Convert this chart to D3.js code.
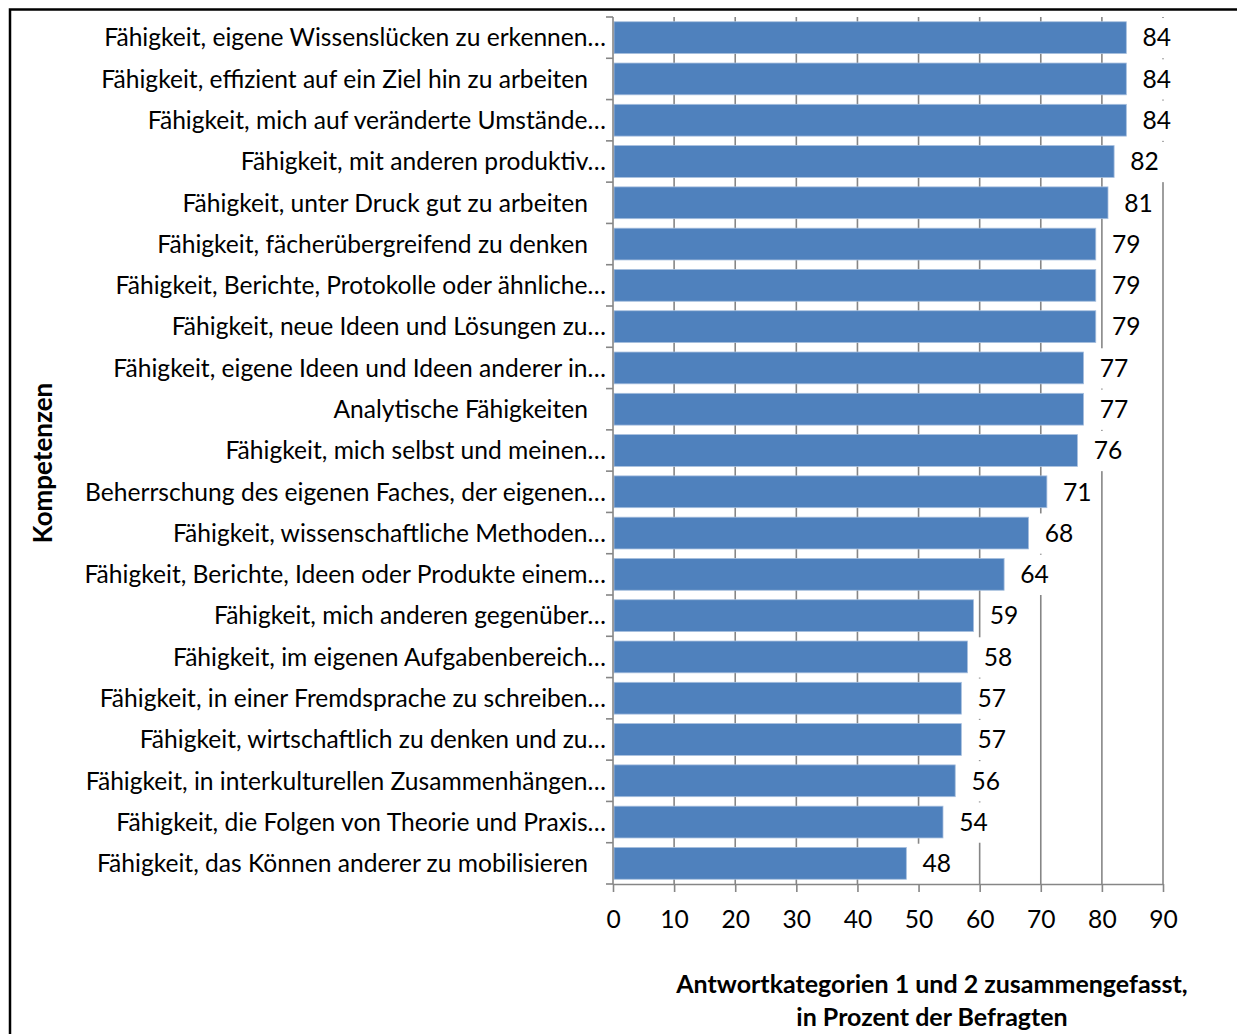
<!DOCTYPE html>
<html>
<head>
<meta charset="utf-8">
<script src="https://cdn.jsdelivr.net/npm/d3@7"></script>
<style>
  html, body { margin: 0; padding: 0; background: #fff; }
  svg { display: block; }
  text { font-family: Lato, "Open Sans", sans-serif; fill: #000; }
</style>
</head>
<body>
<div id="chart"></div>
<script>
const categories = [
  "Fähigkeit, eigene Wissenslücken zu erkennen…",
  "Fähigkeit, effizient auf ein Ziel hin zu arbeiten",
  "Fähigkeit, mich auf veränderte Umstände…",
  "Fähigkeit, mit anderen produktiv…",
  "Fähigkeit, unter Druck gut zu arbeiten",
  "Fähigkeit, fächerübergreifend zu denken",
  "Fähigkeit, Berichte, Protokolle oder ähnliche…",
  "Fähigkeit, neue Ideen und Lösungen zu…",
  "Fähigkeit, eigene Ideen und Ideen anderer in…",
  "Analytische Fähigkeiten",
  "Fähigkeit, mich selbst und meinen…",
  "Beherrschung des eigenen Faches, der eigenen…",
  "Fähigkeit, wissenschaftliche Methoden…",
  "Fähigkeit, Berichte, Ideen oder Produkte einem…",
  "Fähigkeit, mich anderen gegenüber…",
  "Fähigkeit, im eigenen Aufgabenbereich…",
  "Fähigkeit, in einer Fremdsprache zu schreiben…",
  "Fähigkeit, wirtschaftlich zu denken und zu…",
  "Fähigkeit, in interkulturellen Zusammenhängen…",
  "Fähigkeit, die Folgen von Theorie und Praxis…",
  "Fähigkeit, das Können anderer zu mobilisieren"
];
const values = [84, 84, 84, 82, 81, 79, 79, 79, 77, 77, 76, 71, 68, 64, 59, 58, 57, 57, 56, 54, 48];
const xTicks = [0, 10, 20, 30, 40, 50, 60, 70, 80, 90];
const yTitle = "Kompetenzen";
const xTitleLines = ["Antwortkategorien 1 und 2 zusammengefasst,", "in Prozent der Befragten"];

const W = 1237, H = 1034;
const plot = { left: 613, right: 1163, top: 17, bottom: 884 };
const gridColor = "#868686";
const barColor = "#4F81BD";
const fontSize = 24.6;
const font = "Lato, 'Open Sans', sans-serif";

const svg = d3.select("#chart").append("svg")
  .attr("width", W).attr("height", H);

// outer frame
svg.append("rect")
  .attr("x", 10).attr("y", 9.5)
  .attr("width", 1400).attr("height", 1200)
  .attr("fill", "none").attr("stroke", "#000").attr("stroke-width", 2.5);

const x = d3.scaleLinear().domain([0, 90]).range([plot.left, plot.right]);
const y = d3.scaleBand().domain(categories).range([plot.top, plot.bottom])
  .paddingInner(0.23).paddingOuter(0.115);
const step = y.step();
const cellTop = c => y(c) - step * y.paddingInner() / 2;

// gridlines
svg.append("g").selectAll("line").data(xTicks.filter(t => t > 0)).join("line")
  .attr("x1", d => x(d)).attr("x2", d => x(d))
  .attr("y1", plot.top).attr("y2", plot.bottom)
  .attr("stroke", gridColor).attr("stroke-width", 1.6);

// bars
svg.append("g").selectAll("rect").data(values).join("rect")
  .attr("x", x(0) + 1)
  .attr("y", (d, i) => y(categories[i]))
  .attr("width", d => x(d) - x(0) - 1)
  .attr("height", y.bandwidth())
  .attr("fill", barColor)
  .attr("stroke", "#A7BFDE").attr("stroke-width", 0.8);

// label backgrounds
svg.append("g").selectAll("rect").data(values).join("rect")
  .attr("x", d => x(d) + 9)
  .attr("y", (d, i) => cellTop(categories[i]) + 1)
  .attr("width", 43)
  .attr("height", step - 1)
  .attr("fill", "#fff");

// data labels
svg.append("g").selectAll("text").data(values).join("text")
  .attr("x", d => x(d) + 30.5)
  .attr("y", (d, i) => y(categories[i]) + y.bandwidth() / 2)
  .attr("dy", "0.36em")
  .attr("text-anchor", "middle")
  .style("font-size", fontSize + "px")
  .text(d => d);

// y axis line + ticks at band boundaries
const yAxis = svg.append("g");
yAxis.append("line")
  .attr("x1", plot.left).attr("x2", plot.left)
  .attr("y1", plot.top).attr("y2", plot.bottom)
  .attr("stroke", gridColor).attr("stroke-width", 1.6);
const bounds = categories.map(c => cellTop(c)).concat([plot.bottom]);
yAxis.selectAll("line.tick").data(bounds).join("line").attr("class", "tick")
  .attr("x1", plot.left - 7).attr("x2", plot.left)
  .attr("y1", d => d).attr("y2", d => d)
  .attr("stroke", gridColor).attr("stroke-width", 1.6);

// category labels
svg.append("g").selectAll("text").data(categories).join("text")
  .attr("x", d => d.endsWith("…") ? 606 : 588)
  .attr("y", d => y(d) + y.bandwidth() / 2)
  .attr("dy", "0.36em")
  .attr("text-anchor", "end")
  .style("font-size", fontSize + "px")
  .text(d => d);

// x axis
const xAxis = svg.append("g").attr("transform", `translate(0,${plot.bottom})`)
  .call(d3.axisBottom(x).tickValues(xTicks).tickSize(8).tickPadding(19).tickSizeOuter(0));
xAxis.select(".domain").attr("stroke", gridColor).attr("stroke-width", 1.6);
xAxis.selectAll(".tick line").attr("stroke", gridColor).attr("stroke-width", 1.6);
xAxis.selectAll(".tick text")
  .style("font-family", font)
  .style("font-size", fontSize + "px").attr("fill", "#000");

// axis titles
svg.append("text")
  .attr("transform", "translate(43,463) rotate(-90)")
  .attr("text-anchor", "middle").attr("dy", "0.36em")
  .style("font-size", "26px").style("font-weight", "bold")
  .text(yTitle);

svg.append("g").selectAll("text").data(xTitleLines).join("text")
  .attr("x", 932)
  .attr("y", (d, i) => 984 + i * 33)
  .attr("dy", "0.36em")
  .attr("text-anchor", "middle")
  .style("font-size", "25px").style("font-weight", "bold")
  .text(d => d);
</script>
</body>
</html>
